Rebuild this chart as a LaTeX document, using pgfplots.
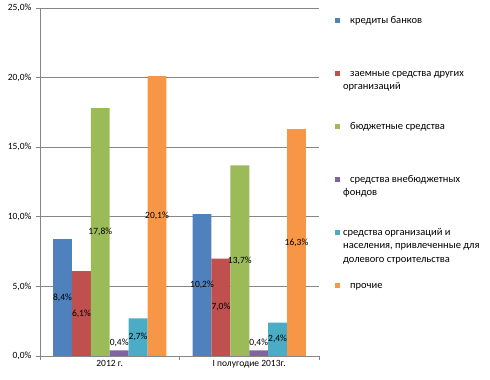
\documentclass[border=0pt]{standalone}
\usepackage{fontspec}
\setmainfont{Carlito}
\usepackage{pgfplots}
\pgfplotsset{compat=1.18}
\definecolor{c1}{HTML}{4F81BD}
\definecolor{c2}{HTML}{C0504D}
\definecolor{c3}{HTML}{9BBB59}
\definecolor{c4}{HTML}{8064A2}
\definecolor{c5}{HTML}{4BACC6}
\definecolor{c6}{HTML}{F79646}
\definecolor{axgray}{HTML}{868686}
\newcommand{\lent}[1]{\parbox[t]{150pt}{\raggedright\fontsize{10.5}{13.5}\selectfont #1}}
\begin{document}
\begin{tikzpicture}[x=1pt,y=1pt]
\useasboundingbox (-40,-24) rectangle (450,356);
\begin{axis}[
  at={(0,0)}, anchor=south west,
  scale only axis, width=279pt, height=348pt,
  xmin=-0.5, xmax=1.5, ymin=0, ymax=25,
  ytick={0,5,10,15,20,25},
  yticklabel={\pgfmathprintnumber[fixed,fixed zerofill,precision=1,use comma]{\tick}\%},
  /pgf/number format/assume math mode=true,
  ymajorgrids, grid style={axgray, line width=0.6pt},
  axis x line*=bottom, axis y line*=left,
  axis line style={axgray, line width=0.8pt, -},
  tick align=outside, major tick length=4pt,
  tick style={axgray, line width=0.8pt},
  xtick={-0.5,0.5,1.5}, xticklabels={},
  extra x ticks={0,1}, extra x tick labels={2012 г., I полугодие 2013г.},
  extra x tick style={major tick length=0pt, grid=none},
  ticklabel style={font=\fontsize{9.5}{11}\selectfont, text=black},
  xticklabel style={yshift=-1pt},
  yticklabel style={xshift=-1pt},
  ybar=0pt, bar width=18.9pt,
  every axis plot/.append style={draw=none},
  nodes near coords={\pgfmathprintnumber[fixed,fixed zerofill,precision=1,use comma]{\pgfplotspointmeta}\%},
  visualization depends on={rawy \as \rawy},
  every node near coord/.append style={anchor=center, text=black, font=\fontsize{9.5}{11}\selectfont,
     yshift={max(\rawy*6.96,13)-\rawy*13.92}},
  legend image code/.code={\fill[#1] (0pt,0.5pt) rectangle (4.5pt,5pt);},
  legend style={draw=none, fill=none, at={(295pt,342pt)}, anchor=north west,
     inner sep=0pt, row sep=0pt, column sep=3.5pt,
     nodes={inner sep=0pt, anchor=base west, text height=9pt, text depth=44pt}},
  legend cell align=left,
]
\addplot[fill=c1] coordinates {(0,8.4) (1,10.2)};
\addplot[fill=c2] coordinates {(0,6.1) (1,7.0)};
\addplot[fill=c3] coordinates {(0,17.8) (1,13.7)};
\addplot[fill=c4] coordinates {(0,0.4) (1,0.4)};
\addplot[fill=c5] coordinates {(0,2.7) (1,2.4)};
\addplot[fill=c6] coordinates {(0,20.1) (1,16.3)};
\legend{
  \lent{\hspace*{7pt}кредиты банков},
  \lent{\hspace*{7pt}заемные средства других\\организаций},
  \lent{\hspace*{7pt}бюджетные средства},
  \lent{\hspace*{7pt}средства внебюджетных\\фондов},
  \lent{средства организаций и\\населения, привлеченные для\\долевого строительства},
  \lent{\hspace*{7pt}прочие}
}
\end{axis}
\end{tikzpicture}
\end{document}
